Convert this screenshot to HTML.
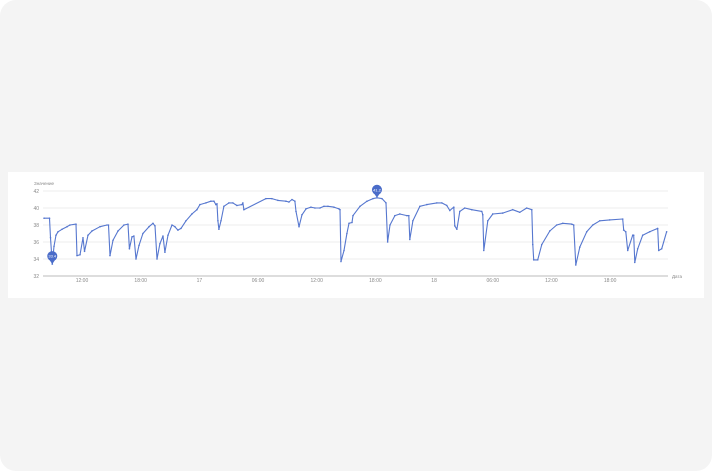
<!DOCTYPE html>
<html><head><meta charset="utf-8"><style>
html,body{margin:0;padding:0;background:#fff;}
#frame{position:absolute;left:0;top:0;width:712px;height:471px;background:#f4f4f4;border-radius:16px;overflow:hidden;}
#card{position:absolute;left:8px;top:172px;width:696px;height:126px;background:#fff;}
svg{position:absolute;left:0;top:0;}
text{font-family:"Liberation Sans",sans-serif;}
</style></head><body>
<div id="frame">
<div id="card"></div>
<svg id="chart" width="712" height="471"></svg>
</div>
<script>
const hours = [8.12,8.68,8.78,8.96,9.14,9.34,9.55,9.96,10.47,10.77,11.39,11.49,11.80,12.10,12.26,12.61,13.02,13.84,14.56,14.71,14.86,15.17,15.68,16.29,16.70,16.85,17.11,17.31,17.52,17.83,18.23,18.85,19.26,19.46,19.67,19.97,20.28,20.48,20.79,21.20,21.50,21.81,22.12,22.63,23.24,23.75,24.06,24.67,25.18,25.49,25.69,25.80,25.90,26.00,26.21,26.51,27.02,27.43,27.84,28.35,28.45,28.55,30.80,31.42,32.03,32.85,33.16,33.47,33.77,33.88,34.19,34.49,34.90,35.41,35.82,36.33,36.74,37.15,37.76,38.27,38.38,38.48,38.79,39.09,39.30,39.61,39.71,40.43,41.14,41.75,42.16,42.67,43.08,43.25,43.49,43.99,44.50,45.22,45.42,45.52,45.83,46.55,47.26,48.28,48.79,49.30,49.61,50.02,50.12,50.33,50.63,51.14,51.86,52.88,52.98,53.08,53.49,54.00,55.02,56.04,56.76,57.47,57.99,58.09,58.19,58.60,59.01,59.83,60.54,61.16,62.08,62.28,62.49,62.90,63.61,64.23,64.94,65.96,67.29,67.39,67.60,67.80,68.31,68.41,68.52,68.82,69.33,70.05,70.86,70.97,71.27,71.78];
const values = [38.8,38.8,36.5,33.4,35.5,36.8,37.2,37.5,37.8,38.0,38.1,34.4,34.5,36.5,34.9,36.8,37.3,37.8,38.0,38.0,34.4,36.2,37.3,38.0,38.1,35.2,36.6,36.7,34.0,35.6,37.0,37.8,38.2,37.9,34.0,35.8,36.7,34.8,36.8,38.0,37.8,37.4,37.6,38.5,39.3,39.8,40.4,40.6,40.8,40.8,40.4,40.5,38.5,37.5,38.5,40.2,40.6,40.6,40.3,40.4,40.6,39.8,41.1,41.1,40.9,40.8,40.7,41.0,40.8,39.6,37.8,39.2,39.9,40.1,40.0,40.0,40.2,40.2,40.1,39.9,39.8,33.7,35.0,37.0,38.2,38.3,39.1,40.2,40.8,41.1,41.2,41.1,40.6,36.0,38.0,39.1,39.3,39.1,39.1,36.3,38.5,40.2,40.4,40.6,40.6,40.3,39.7,40.1,37.9,37.5,39.6,40.0,39.8,39.6,39.2,35.0,38.5,39.3,39.4,39.8,39.5,40.0,39.8,35.7,33.9,33.9,35.7,37.3,38.0,38.2,38.1,38.0,33.3,35.4,37.2,38.0,38.5,38.6,38.7,37.4,37.2,35.0,36.8,36.8,33.6,35.2,36.8,37.2,37.6,35.0,35.2,37.2];
const yTicks = [32,34,36,38,40,42];
const xTickHours = [12,18,24,30,36,42,48,54,60,66];
const xTickLabels = ["12:00","18:00","17","06:00","12:00","18:00","18","06:00","12:00","18:00"];
const NS="http://www.w3.org/2000/svg";
const svg=document.getElementById('chart');
const X0=43,X1=668,Y32=276,PX_PER_UNIT=8.5;
const xs=h=>82+(h-12)*9.78;
const ys=v=>Y32-(v-32)*PX_PER_UNIT;
function mk(tag,attrs){const e=document.createElementNS(NS,tag);for(const k in attrs)e.setAttribute(k,attrs[k]);svg.appendChild(e);return e;}
yTicks.forEach(v=>{
  const l=mk('line',{x1:X0,x2:X1,y1:ys(v),y2:ys(v),stroke:v===32?'#bbb':'#ececec','stroke-width':1});
  
  
  const t=mk('text',{x:39,y:ys(v)+2,'font-size':5,fill:'#888','text-anchor':'end'});t.textContent=v;
  
  
});
xTickHours.forEach((h,i)=>{
  const t=mk('text',{x:xs(h),y:282,'font-size':5,fill:'#888','text-anchor':'middle'});t.textContent=xTickLabels[i];
  
  
});
const yt=mk('text',{x:34,y:185,'font-size':4.5,fill:'#888'});yt.textContent='Значение';


const xt=mk('text',{x:672,y:278,'font-size':4.5,fill:'#888'});xt.textContent='Дата';


const pts=hours.map((h,i)=>xs(h).toFixed(1)+','+ys(values[i]).toFixed(1)).join(' ');
const line=mk('polyline',{points:pts,fill:'none',stroke:'#5677cf','stroke-width':1.1,'stroke-linejoin':'round'});


hours.forEach((h,i)=>{const c=mk('circle',{cx:xs(h),cy:ys(values[i]),r:0.8,fill:'#5677cf'});
  
  });
function pin(idx,name){
  const x=xs(hours[idx]),y=ys(values[idx]);
  const g=document.createElementNS(NS,'g');svg.appendChild(g);
  
  
  const p=document.createElementNS(NS,'path');
  p.setAttribute('d',`M${x-4},${y-6} L${x},${y} L${x+4},${y-6} Z`);p.setAttribute('fill','#4a6cc9');g.appendChild(p);
  const c=document.createElementNS(NS,'circle');c.setAttribute('cx',x);c.setAttribute('cy',y-8);c.setAttribute('r',5);c.setAttribute('fill','#4a6cc9');g.appendChild(c);
  const t=document.createElementNS(NS,'text');t.setAttribute('x',x);t.setAttribute('y',y-6.5);t.setAttribute('font-size',4);t.setAttribute('fill','#fff');t.setAttribute('text-anchor','middle');t.textContent=values[idx].toFixed(1);g.appendChild(t);
}
let mi=0,ma=0;values.forEach((v,i)=>{if(v<values[mi])mi=i;if(v>values[ma])ma=i;});
pin(mi===133?3:3,'min-marker');
pin(ma,'max-marker');
</script>
</body></html>
